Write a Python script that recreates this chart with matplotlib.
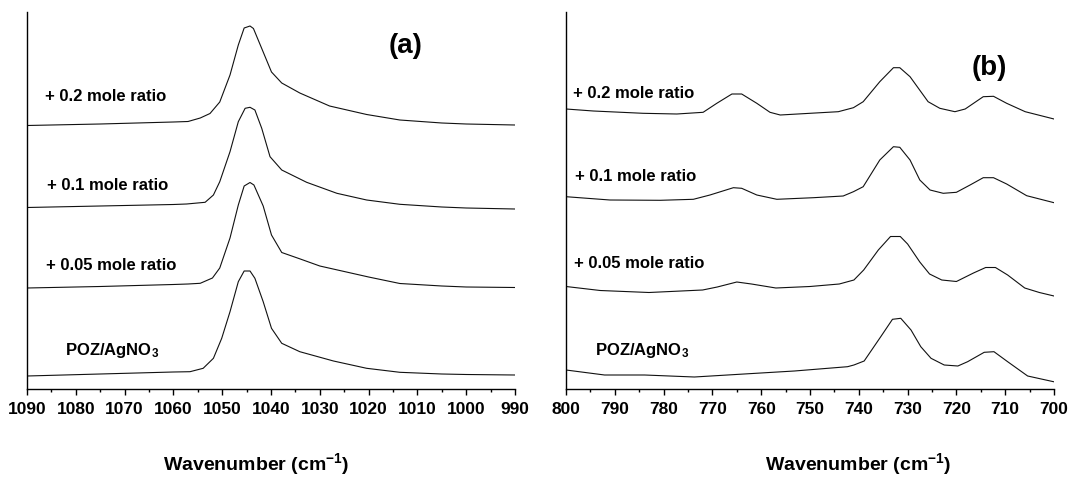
import matplotlib
matplotlib.use("Agg")
import matplotlib.pyplot as plt
from matplotlib.ticker import MultipleLocator

plt.rcParams['font.family'] = ['Liberation Sans', 'DejaVu Sans']
plt.rcParams['font.weight'] = 'bold'
plt.rcParams['mathtext.fontset'] = 'custom'
plt.rcParams['mathtext.rm'] = 'Liberation Sans:bold'
plt.rcParams['mathtext.bf'] = 'Liberation Sans:bold'
plt.rcParams['mathtext.it'] = 'Liberation Sans:bold'
plt.rcParams['mathtext.default'] = 'bf'

# ---------------- Panel (a): 1090-990 cm-1 (stacked, arbitrary units) ----------------
wn_a_02 = [1090, 1075, 1060, 1057, 1054.5, 1052.5, 1050.5, 1048.4, 1046.7, 1045.5, 1044.3,
           1043.6, 1041.6, 1039.9, 1037.8, 1034.1, 1028, 1020.4, 1013.6, 1005, 1000, 990]
int_a_02 = [264.5, 266, 268, 268.5, 272, 276.5, 288, 315, 345, 362, 364,
            361.5, 338, 318, 307, 297, 284, 275.5, 270, 267, 266, 265]

wn_a_01 = [1090, 1075, 1060, 1057.3, 1053.5, 1051.8, 1050.5, 1048.4, 1046.7, 1045.3, 1044.3,
           1043.3, 1041.9, 1040.2, 1037.8, 1032.7, 1026.5, 1020.4, 1013.6, 1005, 1000, 990]
int_a_01 = [182.5, 184, 185.5, 186, 187.7, 195, 208.3, 238.3, 268.3, 281.7, 282.7,
            280, 261.7, 233.3, 220, 207.7, 196.7, 190, 185.7, 183, 182, 181]

wn_a_005 = [1090, 1075, 1060, 1057, 1054.5, 1052, 1050.5, 1048.4, 1046.7, 1045.5, 1044.3,
            1043.5, 1041.6, 1039.9, 1037.8, 1034, 1030, 1020, 1013.6, 1005, 1000, 990]
int_a_005 = [102, 103.5, 105.5, 106, 106.7, 112, 122, 152, 185, 204, 207.5,
             205, 184, 155, 137.5, 131, 124, 113, 106.5, 104, 103, 102.5]

wn_a_poz = [1090, 1075, 1060, 1056.6, 1053.9, 1051.8, 1050.1, 1048.4, 1046.7, 1045.5, 1044.3,
            1043.3, 1041.6, 1039.9, 1037.8, 1034.1, 1027.2, 1020.4, 1013.6, 1005, 1000, 990]
int_a_poz = [14, 16, 18, 18.3, 21.7, 31.7, 51.7, 78.3, 108.3, 119, 119,
             111.7, 88.3, 61.7, 46.7, 38.3, 29, 21.7, 17.7, 16, 15.5, 15]

# ---------------- Panel (b): 800-700 cm-1 ----------------
wn_b_02 = [800, 794.4, 784.2, 777.3, 771.9, 769.1, 766.0, 764.0, 760.9, 758.2, 756.1, 750.0,
           744.2, 741.1, 739.1, 735.7, 732.9, 731.6, 729.5, 725.8, 723.4, 720.3, 718.2,
           714.5, 712.4, 709.7, 705.9, 700]
int_b_02 = [281, 279, 276.7, 276, 277.7, 286.7, 296, 296, 286.7, 277.7, 275, 276.7,
            278.3, 282.3, 288.3, 308.3, 322.3, 322.3, 313.3, 288.3, 281.7, 278.3, 281,
            293.3, 293.7, 286.7, 278.3, 271]

wn_b_01 = [800, 791, 780.7, 773.9, 770.5, 765.7, 764, 760.9, 756.8, 749.3, 743.2, 741.1,
           739.1, 735.7, 732.9, 731.6, 729.5, 727.5, 725.4, 722.7, 720, 717.2, 714.5,
           712.4, 709.7, 705.6, 700]
int_b_01 = [193.3, 190, 189.7, 190.7, 195, 202.3, 201.7, 195, 190.7, 192.3, 194, 198.3,
            203.3, 230, 243.3, 242.7, 230, 210, 200, 196.7, 197.7, 205, 212.3,
            212.3, 206, 194.3, 187.3]

wn_b_005 = [800, 793, 783, 772, 769, 765, 762, 757, 750, 744, 741, 739, 736, 733.5, 731.5,
            730, 727.5, 725.5, 723, 720, 716.5, 714, 712, 709.5, 706, 703, 700]
int_b_005 = [103.5, 99.5, 97.5, 100, 103, 108, 106, 102, 103.5, 106, 110, 120, 140, 153.5, 153.5,
             146, 128, 116, 110, 108.5, 117, 122.5, 122.5, 115, 102, 97.5, 94]

wn_b_poz = [800, 792.1, 783.9, 773.7, 763.5, 753.2, 742.3, 741, 738.9, 735.5, 733.1, 731.4,
            729.3, 727.3, 725.2, 722.5, 719.7, 717.7, 714.3, 712.3, 709.5, 705.4, 700.1]
int_b_poz = [20, 15, 15, 13, 16, 19, 23.3, 25, 29, 53.3, 70.7, 71.7,
             60, 43.3, 31.7, 25, 24, 28.3, 37.7, 38.3, 28.3, 14, 8.3]

labels = ["+ 0.2 mole ratio", "+ 0.1 mole ratio", "+ 0.05 mole ratio", "POZ/AgNO$_3$"]
panel_tags = ["(a)", "(b)"]
xlim_a = (1090, 990)
xlim_b = (800, 700)
ylim = (1, 378)

W, H = 1068, 479
fig = plt.figure(figsize=(W / 100, H / 100), dpi=100)

def px_axes(l, r, t, b):
    return fig.add_axes([l / W, 1 - b / H, (r - l) / W, (b - t) / H])

ax_a = px_axes(27, 515, 12, 389)
ax_b = px_axes(566, 1054, 12, 389)

series_a = [(wn_a_02, int_a_02), (wn_a_01, int_a_01), (wn_a_005, int_a_005), (wn_a_poz, int_a_poz)]
series_b = [(wn_b_02, int_b_02), (wn_b_01, int_b_01), (wn_b_005, int_b_005), (wn_b_poz, int_b_poz)]

for ax, series, xl in [(ax_a, series_a, xlim_a), (ax_b, series_b, xlim_b)]:
    for x, y in series:
        ax.plot(x, y, color='#111111', lw=0.8, solid_joinstyle='round')
    ax.set_xlim(*xl)
    ax.set_ylim(*ylim)
    ax.spines['top'].set_visible(False)
    ax.spines['right'].set_visible(False)
    ax.spines['left'].set_linewidth(1.0)
    ax.spines['bottom'].set_linewidth(1.0)
    ax.set_yticks([])
    ax.xaxis.set_major_locator(MultipleLocator(10))
    ax.xaxis.set_minor_locator(MultipleLocator(5))
    ax.tick_params(axis='x', which='major', direction='out', length=4.5, width=1.0,
                   labelsize=12.5, pad=5)
    ax.tick_params(axis='x', which='minor', direction='out', length=2.5, width=1.0)
    for lab in ax.get_xticklabels():
        lab.set_fontweight('bold')
    ax.set_xlabel("Wavenumber (cm$^{-1}$)", fontsize=14, fontweight='bold')

ax_a.xaxis.set_label_coords(0.469, -0.165)
ax_b.xaxis.set_label_coords(0.598, -0.165)

def fig_text(xp, yp, s, **kw):
    fig.text(xp / W, 1 - yp / H, s, **kw)

pos_a = [(45, 97), (47, 185), (46, 265), (65, 350)]
pos_b = [(573, 93), (575, 177), (574, 264), (595, 351)]
for (xp, yp), s in zip(pos_a, labels):
    fig_text(xp, yp, s, fontsize=12, fontweight='bold', ha='left', va='center')
for (xp, yp), s in zip(pos_b, labels):
    fig_text(xp, yp, s, fontsize=12, fontweight='bold', ha='left', va='center')

fig_text(406, 46, panel_tags[0], fontsize=20, fontweight='bold', ha='center', va='center')
fig_text(989, 68, panel_tags[1], fontsize=20, fontweight='bold', ha='center', va='center')

fig.savefig("out.png", dpi=100)
